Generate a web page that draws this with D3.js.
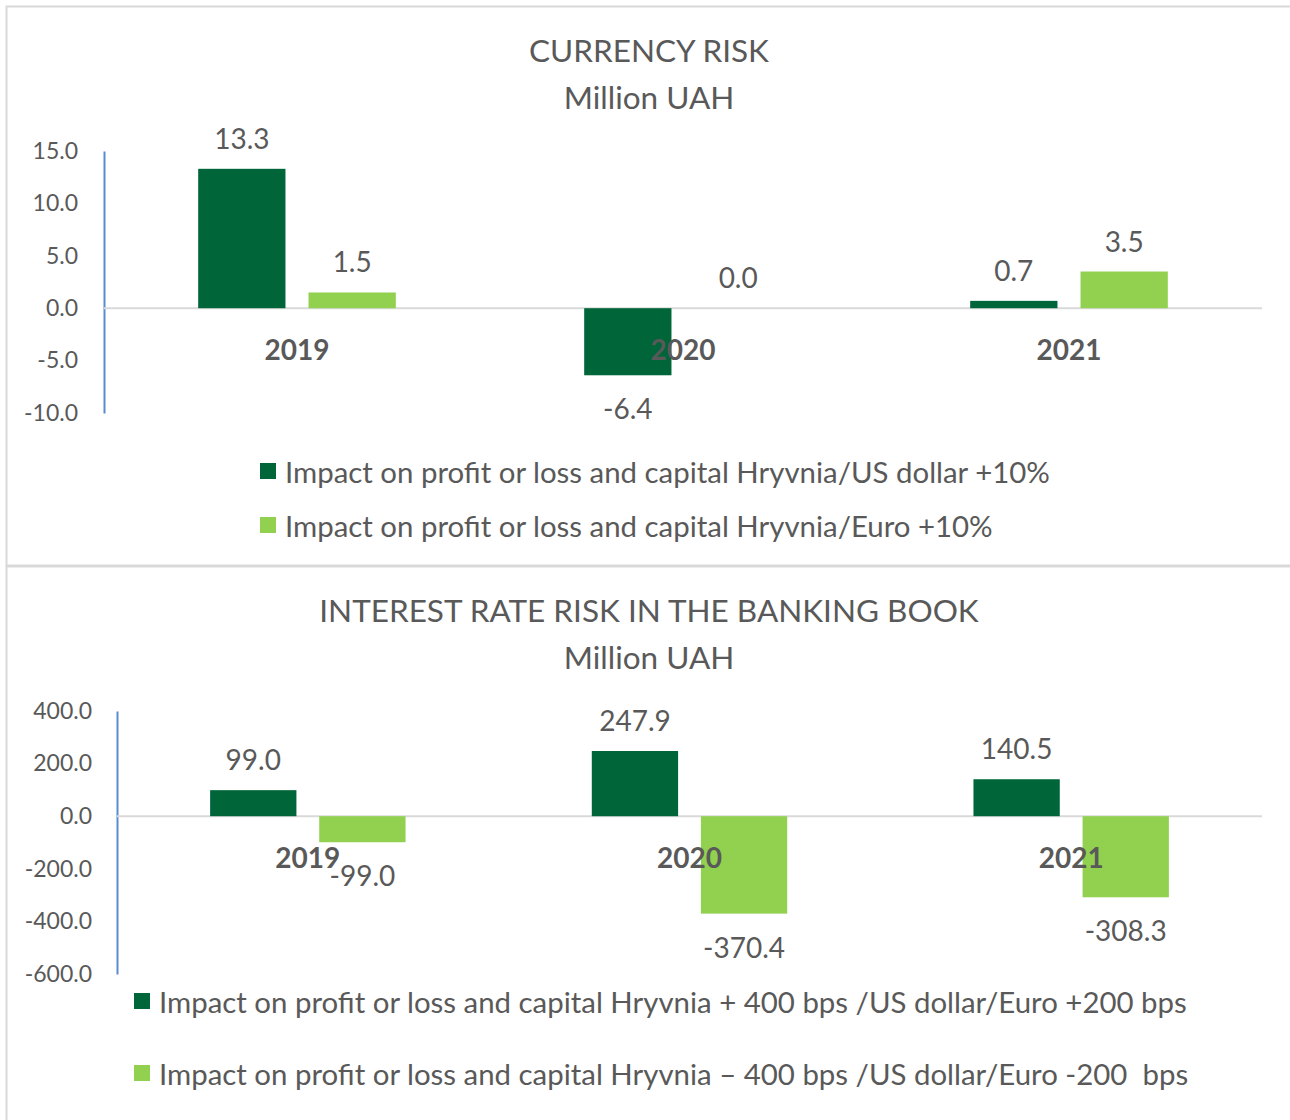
<!DOCTYPE html>
<html>
<head>
<meta charset="utf-8">
<script src="https://cdn.jsdelivr.net/npm/d3@7"></script>
<style>
  body { margin: 0; background: #fff; }
  svg { display: block; font-family: Lato, "Open Sans", sans-serif; }
  text { white-space: pre; }
</style>
</head>
<body>
<svg id="chart" width="1290" height="1120"></svg>
<script>
// values
const years = ['2019', '2020', '2021'];

const currencyUsd = [13.3, -6.4, 0.7];
const currencyEur = [1.5, 0.0, 3.5];
const currencyTicks = [15, 10, 5, 0, -5, -10];
const currencyLegend = [
  'Impact on profit or loss and capital Hryvnia/US dollar +10%',
  'Impact on profit or loss and capital Hryvnia/Euro +10%'
];

const rateUp = [99.0, 247.9, 140.5];
const rateDown = [-99.0, -370.4, -308.3];
const rateTicks = [400, 200, 0, -200, -400, -600];
const rateLegend = [
  'Impact on profit or loss and capital Hryvnia + 400 bps /US dollar/Euro +200 bps',
  'Impact on profit or loss and capital Hryvnia \u2013 400 bps /US dollar/Euro -200  bps'
];

const dark = '#006639';
const light = '#92d050';
const textColor = '#595959';

// plain hyphen for negatives, like the original
const fmt = d3.formatLocale({ decimal: '.', thousands: ',', grouping: [3], currency: ['', ''], minus: '-' }).format('.1f');

const svg = d3.select('#chart');

function drawPanel(opts) {
  const g = svg.append('g');

  // panel frame
  g.append('rect')
    .attr('x', 6.5).attr('y', opts.top + 0.5)
    .attr('width', 1320).attr('height', opts.height)
    .attr('fill', 'none').attr('stroke', '#d9d9d9').attr('stroke-width', 2);

  g.selectAll('text.title')
    .data(opts.title)
    .enter().append('text')
    .attr('x', 649)
    .attr('y', (d, i) => opts.titleY + i * 47)
    .attr('text-anchor', 'middle')
    .attr('dominant-baseline', 'central')
    .attr('font-size', 31.5)
    .attr('fill', textColor)
    .text(d => d);

  const y = d3.scaleLinear()
    .domain(opts.domain)
    .range([opts.yBottom, opts.yTop]);

  const x = d3.scaleBand()
    .domain(years)
    .range([opts.xLeft, 1262]);

  const bw = x.bandwidth();
  const inner = d3.scaleBand()
    .domain([0, 1])
    .range([bw * 0.244, bw * 0.756])
    .paddingInner(0.209);

  // value axis
  const axis = d3.axisLeft(y)
    .tickValues(opts.ticks)
    .tickFormat(fmt)
    .tickSize(0)
    .tickPadding(opts.tickPad);

  const ax = g.append('g')
    .attr('transform', `translate(${opts.xLeft},0)`)
    .call(axis);
  ax.select('.domain').attr('stroke', '#5b8ccf').attr('stroke-width', 2);
  ax.selectAll('text')
    .attr('font-size', 23)
    .attr('font-family', 'Lato, "Open Sans", sans-serif')
    .attr('fill', textColor);

  // zero line
  g.append('line')
    .attr('x1', opts.xLeft).attr('x2', 1262)
    .attr('y1', y(0)).attr('y2', y(0))
    .attr('stroke', '#d9d9d9').attr('stroke-width', 2);

  const series = [opts.a, opts.b];
  const colors = [dark, light];

  series.forEach((vals, s) => {
    g.selectAll(null)
      .data(vals)
      .enter().append('rect')
      .attr('x', (d, i) => x(years[i]) + inner(s))
      .attr('width', inner.bandwidth())
      .attr('y', d => y(Math.max(0, d)))
      .attr('height', d => Math.abs(y(d) - y(0)))
      .attr('fill', colors[s]);

    g.selectAll(null)
      .data(vals)
      .enter().append('text')
      .attr('x', (d, i) => x(years[i]) + inner(s) + inner.bandwidth() / 2)
      .attr('y', d => d >= 0 ? y(d) - 31 : y(d) + 33)
      .attr('text-anchor', 'middle')
      .attr('dominant-baseline', 'central')
      .attr('font-size', 28)
      .attr('fill', textColor)
      .text(d => fmt(d));
  });

  // category labels sit just under the zero line
  g.selectAll(null)
    .data(years)
    .enter().append('text')
    .attr('x', d => x(d) + x.bandwidth() / 2)
    .attr('y', y(0) + 41)
    .attr('text-anchor', 'middle')
    .attr('dominant-baseline', 'central')
    .attr('font-size', 28)
    .attr('font-weight', 'bold')
    .attr('fill', textColor)
    .text(d => d);

  // legend
  const lg = g.selectAll(null)
    .data(opts.legend)
    .enter().append('g')
    .attr('transform', (d, i) => `translate(${opts.legendX},${opts.legendY + i * opts.legendGap})`);
  lg.append('rect')
    .attr('x', 0).attr('y', -8)
    .attr('width', 16).attr('height', 16)
    .attr('fill', (d, i) => colors[i]);
  lg.append('text')
    .attr('x', 25).attr('y', 0)
    .attr('dominant-baseline', 'central')
    .attr('font-size', 29.4)
    .attr('fill', textColor)
    .text(d => d);
}

drawPanel({
  top: 6, height: 559,
  title: ['CURRENCY RISK', 'Million UAH'], titleY: 50,
  domain: [-10, 15], ticks: currencyTicks,
  yTop: 151, yBottom: 413, xLeft: 104, tickPad: 26,
  a: currencyUsd, b: currencyEur,
  legend: currencyLegend, legendX: 260, legendY: 471, legendGap: 54
});

drawPanel({
  top: 566, height: 600,
  title: ['INTEREST RATE RISK IN THE BANKING BOOK', 'Million UAH'], titleY: 610,
  domain: [-600, 400], ticks: rateTicks,
  yTop: 711, yBottom: 974, xLeft: 117, tickPad: 25,
  a: rateUp, b: rateDown,
  legend: rateLegend, legendX: 134, legendY: 1001, legendGap: 72
});
</script>
</body>
</html>
